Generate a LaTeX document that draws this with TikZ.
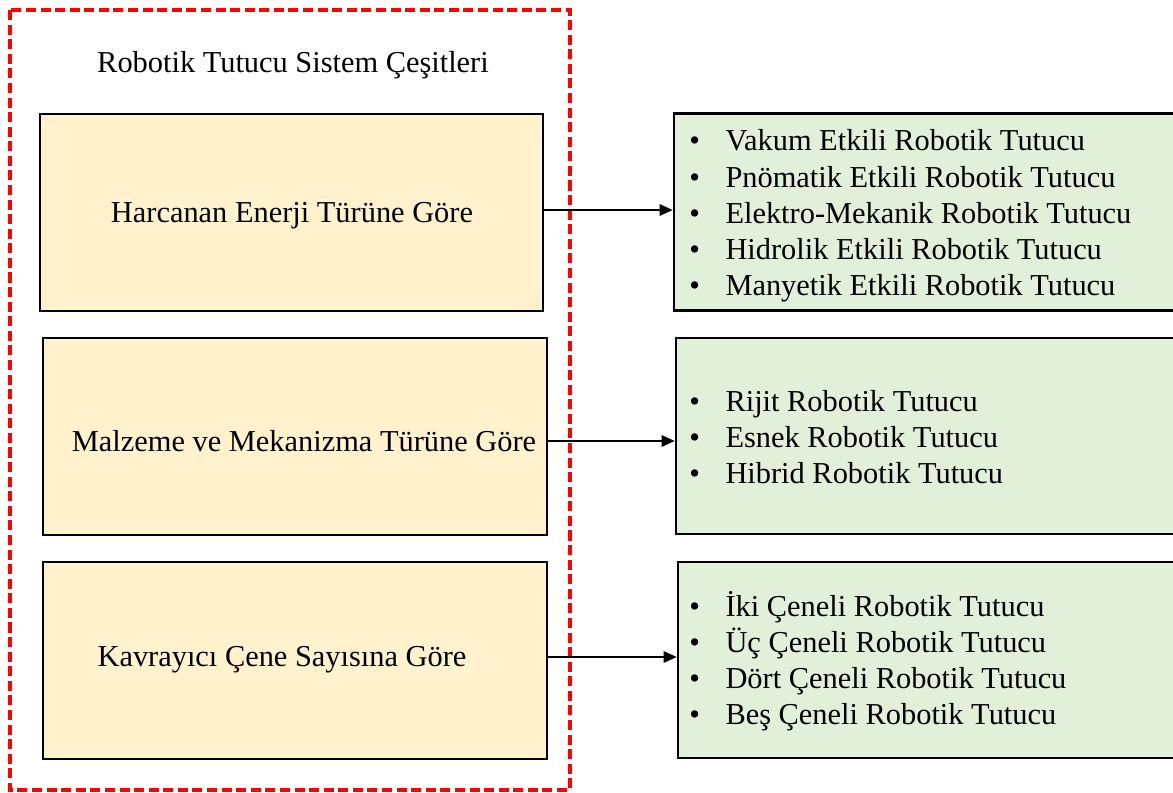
\documentclass[tikz,border=0pt]{standalone}
\usepackage{fontspec}
\setmainfont{Liberation Serif}
\usetikzlibrary{arrows.meta}
\definecolor{leftfill}{HTML}{FFF2CC}
\definecolor{rightfill}{HTML}{E2F0D9}
\newcommand{\itm}{\makebox[20.6pt][l]{\textbullet}}
\begin{document}
\begin{tikzpicture}[x = 0.02cm, y = -0.02cm,
		txt/.style = {inner sep = 0, font = \fontsize{17.3}{20.6}\selectfont},
		catbox/.style = {draw, line width = 1.5pt, fill = leftfill, minimum height = 3.94cm, inner sep = 0},
		listbox/.style = {draw, line width = 1.5pt, fill = rightfill, minimum height = 3.94cm, inner sep = 0},
		link/.style = {line width = 1.1pt, -{Triangle[length = 7.5pt, width = 6.5pt]}}]
	% frame of the picture
	\path[use as bounding box, clip] (0, 0) rectangle (1173, 792);
	% red dashed group
	\draw[red, line width = 2.3pt, dash pattern = on 5.7pt off 2.6pt] (10, 10) rectangle (570, 790);
	\node[txt] (title) at (293, 65) {Robotik Tutucu Sistem Çeşitleri};
	% left boxes
	\node[catbox, minimum width = 10.06cm] (cat1) at (291.5, 212.5) {};
	\node[catbox, minimum width = 10.08cm] (cat2) at (295, 436.5) {};
	\node[catbox, minimum width = 10.08cm] (cat3) at (295, 660.5) {};
	\node[txt] (lbl1) at (292, 216) {Harcanan Enerji Türüne Göre};
	\node[txt] (lbl2) at (304, 441) {Malzeme ve Mekanizma Türüne Göre};
	\node[txt] (lbl3) at (282, 660) {Kavrayıcı Çene Sayısına Göre};
	% right boxes
	\node[listbox, minimum width = 10.2cm] (lst1) at (929, 212) {};
	\node[listbox, minimum width = 10.2cm, minimum height = 3.92cm] (lst2) at (931, 436) {};
	\node[listbox, minimum width = 10.2cm, minimum height = 3.92cm] (lst3) at (933, 660) {};
	% the bullet lists
	\node[txt, align = left, anchor = west] (items1) at (689, 216) {\itm Vakum Etkili Robotik Tutucu\\
		\itm Pnömatik Etkili Robotik Tutucu\\
		\itm Elektro-Mekanik Robotik Tutucu\\
		\itm Hidrolik Etkili Robotik Tutucu\\
		\itm Manyetik Etkili Robotik Tutucu};
	\node[txt, align = left, anchor = west] (items2) at (689, 437) {\itm Rijit Robotik Tutucu\\
		\itm Esnek Robotik Tutucu\\
		\itm Hibrid Robotik Tutucu};
	\node[txt, align = left, anchor = west] (items3) at (689, 661) {\itm İki Çeneli Robotik Tutucu\\
		\itm Üç Çeneli Robotik Tutucu\\
		\itm Dört Çeneli Robotik Tutucu\\
		\itm Beş Çeneli Robotik Tutucu};
	% arrows
	\draw[link] (cat1.east |- 0, 210) -- (lst1.west |- 0, 210);
	\draw[link] (cat2.east |- 0, 441) -- (lst2.west |- 0, 441);
	\draw[link] (cat3.east |- 0, 657) -- (lst3.west |- 0, 657);
\end{tikzpicture}
\end{document}
